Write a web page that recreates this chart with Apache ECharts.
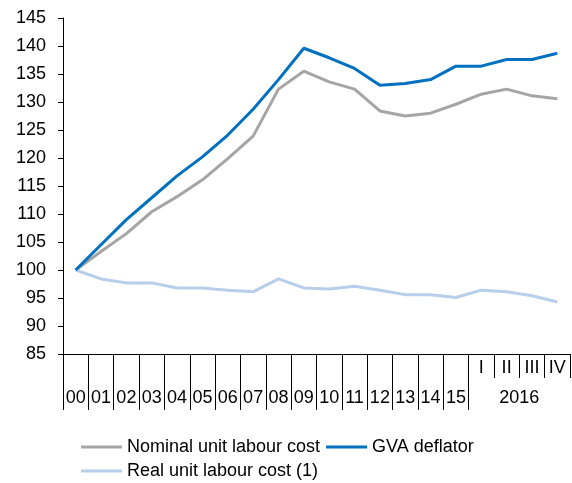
<!DOCTYPE html>
<html>
<head>
<meta charset="utf-8">
<script src="https://cdn.jsdelivr.net/npm/echarts@6/dist/echarts.min.js"></script>
<style>html,body{margin:0;padding:0;background:#fff;}#c{width:572px;height:483px;}</style>
</head>
<body>
<div id="c"></div>
<script>
const years = ['00','01','02','03','04','05','06','07','08','09','10','11','12','13','14','15'];
const quarters = ['I','II','III','IV'];
const quarterYear = '2016';
const categories = years.concat(quarters);
const yTicks = {min: 85, max: 145, interval: 5};

const nominalULC = [100, 103.3, 106.5, 110.4, 113.1, 116.1, 119.9, 123.9, 132.3, 135.5, 133.6, 132.3, 128.4, 127.5, 128.0, 129.6, 131.4, 132.3, 131.1, 130.6];
const gvaDeflator = [100, 104.5, 109.0, 112.9, 116.8, 120.2, 124.1, 128.7, 134.0, 139.6, 137.9, 136.0, 133.0, 133.3, 134.0, 136.4, 136.4, 137.6, 137.6, 138.7];
const realULC = [100, 98.4, 97.7, 97.7, 96.8, 96.8, 96.4, 96.1, 98.4, 96.8, 96.6, 97.1, 96.4, 95.6, 95.6, 95.1, 96.4, 96.1, 95.4, 94.3];

const seriesNames = ['Nominal unit labour cost', 'GVA deflator', 'Real unit labour cost (1)'];
const colors = ['#A5A5A5', '#0070C0', '#B7CFEA'];

const font = 'Arial, "Liberation Sans", sans-serif';
const chart = echarts.init(document.getElementById('c'), null, {renderer: 'canvas'});

const nYears = years.length;
const nCats = categories.length;
const yearBoundaries = [];
for (let i = 0; i <= nYears; i++) yearBoundaries.push(i);
const quarterCenter = nYears + quarters.length / 2;

chart.setOption({
  animation: false,
  color: colors,
  grid: {left: 63, right: 2, top: 18, bottom: 129, containLabel: false},
  legend: {
    left: 76, top: 433, width: 420,
    itemWidth: 41, itemHeight: 3, itemGap: 6,
    icon: 'rect',
    textStyle: {fontFamily: font, fontSize: 18, color: '#000'},
    data: seriesNames
  },
  xAxis: [{
    type: 'category',
    data: categories,
    boundaryGap: true,
    axisLine: {lineStyle: {color: '#000', width: 1}},
    axisTick: {show: true, length: 24, lineStyle: {color: '#000'}, interval: 0},
    axisLabel: {
      interval: 0, margin: 5, color: '#000', fontFamily: font, fontSize: 18,
      formatter: function (v, i) { return i < nYears ? '{y|' + v + '}' : '{q|' + v + '}'; },
      rich: {
        y: {fontFamily: font, fontSize: 18, color: '#000', padding: [30, 0, 0, 0]},
        q: {fontFamily: font, fontSize: 18, color: '#000'}
      }
    },
    splitLine: {show: false}
  }, {
    type: 'value',
    position: 'bottom',
    min: 0, max: nCats, interval: 1,
    axisLine: {show: false},
    axisTick: {show: true, length: 56, lineStyle: {color: '#000'}, customValues: yearBoundaries},
    axisLabel: {
      margin: 35, color: '#000', fontFamily: font, fontSize: 18,
      customValues: [quarterCenter],
      formatter: function () { return quarterYear; }
    },
    splitLine: {show: false}
  }],
  yAxis: {
    type: 'value',
    min: yTicks.min, max: yTicks.max, interval: yTicks.interval,
    axisLine: {show: true, lineStyle: {color: '#000'}},
    axisTick: {show: true, length: 5, lineStyle: {color: '#000'}},
    axisLabel: {margin: 17, color: '#000', fontFamily: font, fontSize: 18},
    splitLine: {show: false}
  },
  series: [
    {name: seriesNames[0], type: 'line', data: nominalULC, symbol: 'none', lineStyle: {width: 3, color: colors[0]}, itemStyle: {color: colors[0]}, z: 2},
    {name: seriesNames[1], type: 'line', data: gvaDeflator, symbol: 'none', lineStyle: {width: 3, color: colors[1]}, itemStyle: {color: colors[1]}, z: 3},
    {name: seriesNames[2], type: 'line', data: realULC, symbol: 'none', lineStyle: {width: 3, color: colors[2]}, itemStyle: {color: colors[2]}, z: 1}
  ]
});
</script>
</body>
</html>
